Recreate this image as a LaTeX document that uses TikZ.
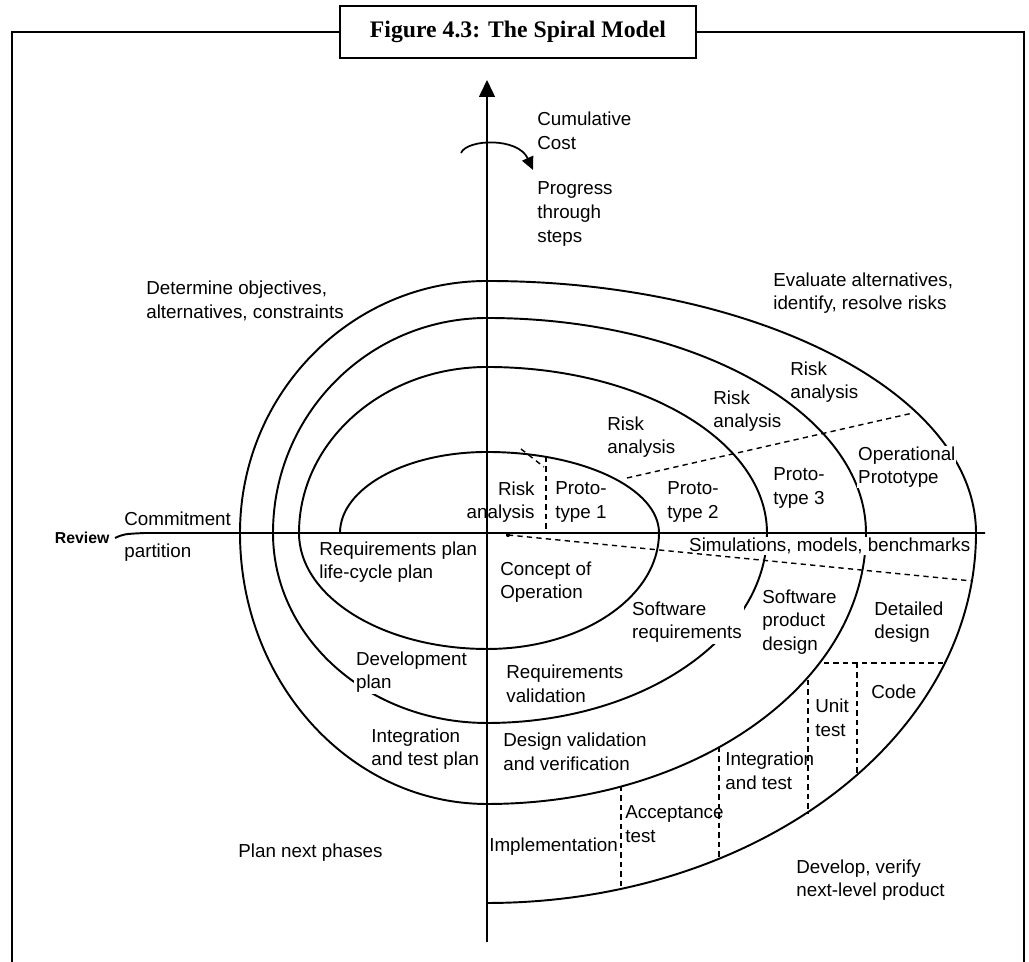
\documentclass[tikz,border=0pt]{standalone}
\usepackage{fontspec}
\setmainfont{Liberation Sans}
\newfontfamily\captionfont{Liberation Serif}
\usetikzlibrary{arrows.meta}

\begin{document}
\begin{tikzpicture}[x=0.02cm,y=0.02cm,
  lbl/.style={anchor=west, align=left, inner sep=0pt, font=\fontsize{10.7}{13.4}\selectfont},
  gap/.style={fill=white, inner sep=1pt},
  spiral/.style={line width=1.1pt},
  sep/.style={line width=0.8pt, dash pattern=on 3pt off 2.4pt}]
\useasboundingbox (0,0) rectangle (1029,962);

% frame with caption
\node[draw, line width=1.4pt, minimum width=7.12cm, minimum height=1.04cm, inner sep=0pt,
  font=\captionfont\bfseries\fontsize{13.5}{16}\selectfont](caption) at (518,930) {Figure 4.3: The Spiral Model};
\draw[line width=1.6pt] (12,0) |- (caption.west);
\draw[line width=1.6pt] (1024,0) |- (caption.east);

% axes
\coordinate (top) at (487,882);
\coordinate (bottom) at (487,20);
\coordinate (west) at (115,424);
\coordinate (east) at (985,429);
\draw[line width=0.8pt, -{Triangle[length=0.34cm, width=0.32cm]}] (bottom) -- (top);
\draw[line width=1.1pt] (west) .. controls (124,428) .. (145,429) -- (east);
\node[anchor=east, inner sep=3pt, font=\bfseries\fontsize{9}{11}\selectfont](review) at (west) {Review};

% cost arrow
\coordinate (turnA) at (461,809);
\coordinate (turnB) at (533,792);
\draw[line width=1pt, -{Triangle[length=0.26cm, width=0.24cm]}] (turnA) .. controls (467,823) and (518,825) .. (turnB);

% spiral
\draw[spiral] (340,429)
  arc[start angle=180, end angle=90, x radius=147, y radius=81]
  arc[start angle=90, end angle=0, x radius=172, y radius=81]
  arc[start angle=0, end angle=-90, x radius=172, y radius=116]
  arc[start angle=-90, end angle=-180, x radius=188, y radius=116]
  arc[start angle=180, end angle=90, x radius=188, y radius=166]
  arc[start angle=90, end angle=0, x radius=280, y radius=166]
  arc[start angle=0, end angle=-90, x radius=280, y radius=190]
  arc[start angle=-90, end angle=-180, x radius=214, y radius=190]
  arc[start angle=180, end angle=90, x radius=214, y radius=215]
  arc[start angle=90, end angle=0, x radius=379, y radius=215]
  arc[start angle=0, end angle=-90, x radius=379, y radius=271]
  arc[start angle=-90, end angle=-180, x radius=247, y radius=271]
  arc[start angle=180, end angle=90, x radius=247, y radius=252]
  arc[start angle=90, end angle=0, x radius=489, y radius=252]
  arc[start angle=0, end angle=-90, x radius=489, y radius=370];

% labels
\node[lbl](cost) at (537,831) {Cumulative\\Cost};
\node[lbl](progress) at (537,748) {Progress\\through\\steps};
\node[lbl](objectives) at (146,661) {Determine objectives,\\alternatives, constraints};
\node[lbl](evaluate) at (773,669) {Evaluate alternatives,\\identify, resolve risks};
\node[lbl](riskD) at (790,580) {Risk\\analysis};
\node[lbl](riskC) at (713,551) {Risk\\analysis};
\node[lbl](riskB) at (607,525) {Risk\\analysis};
\node[lbl, anchor=east, align=right](riskA) at (535,460) {Risk\\analysis};
\node[lbl](protoA) at (555,460) {Proto-\\type 1};
\node[lbl](protoB) at (667,460) {Proto-\\type 2};
\node[lbl](protoC) at (773,474) {Proto-\\type 3};
\node[lbl, gap, inner sep=0.5pt](operational) at (857,495) {Operational\\Prototype};
\node[lbl](commitment) at (124,443) {Commitment};
\node[lbl](partition) at (124,409) {partition};
\node[lbl, gap, inner sep=0.5pt](simulations) at (688,416) {Simulations, models, benchmarks};
\node[lbl](reqplan) at (319,400) {Requirements plan\\life-cycle plan};
\node[lbl](concept) at (500,380) {Concept of\\Operation};
\node[lbl, gap](softreq) at (630,340) {Software\\requirements};
\node[lbl](proddesign) at (762,340) {Software\\product\\design};
\node[lbl](detailed) at (874,340) {Detailed\\design};
\node[lbl, gap](devplan) at (354,290) {Development\\plan};
\node[lbl](reqvalid) at (506,278) {Requirements\\validation};
\node[lbl](code) at (871,270) {Code};
\node[lbl](unittest) at (815,244) {Unit\\test};
\node[lbl](itplan) at (371,213) {Integration\\and test plan};
\node[lbl](designvalid) at (503,210) {Design validation\\and verification};
\node[lbl](inttest) at (725,191) {Integration\\and test};
\node[lbl](acceptance) at (625,138) {Acceptance\\test};
\node[lbl](implementation) at (489,115) {Implementation};
\node[lbl](nextphases) at (238,109) {Plan next phases};
\node[lbl](develop) at (796,82) {Develop, verify\\next-level product};

% dashed partitions
\coordinate (riskAa) at (521,513);
\coordinate (riskAb) at (544,495);
\coordinate (protoAa) at (546,505);
\coordinate (protoAb) at (546,429);
\coordinate (protoBa) at (627,484);
\coordinate (protoBb) at (913,549);
\coordinate (simA) at (508,427);
\coordinate (simB) at (972,381);
\coordinate (codeA) at (824,299);
\coordinate (codeB) at (946,299);
\coordinate (unitA) at (857,299);
\coordinate (unitB) at (857,189);
\coordinate (intA) at (808,282);
\coordinate (intB) at (808,149);
\coordinate (accA) at (719,215);
\coordinate (accB) at (719,104);
\coordinate (impA) at (621,176);
\coordinate (impB) at (621,76);
\draw[sep] (riskAa) -- (riskAb);
\draw[sep] (protoAa) -- (protoAb);
\draw[sep] (protoBa) -- (protoBb);
\fill (simA) circle (1.2pt);
\draw[sep] (simA) -- (simB);
\draw[sep] (codeA) -- (codeB);
\draw[sep] (unitA) -- (unitB);
\draw[sep] (intA) -- (intB);
\draw[sep] (accA) -- (accB);
\draw[sep] (impA) -- (impB);
\end{tikzpicture}
\end{document}
